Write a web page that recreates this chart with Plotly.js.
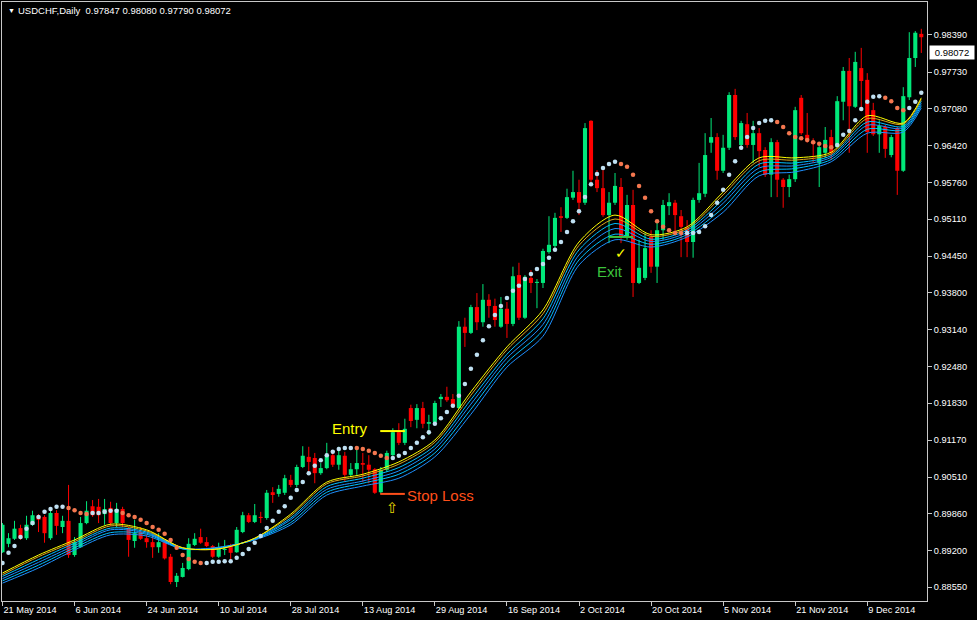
<!DOCTYPE html>
<html><head><meta charset="utf-8">
<script src="https://cdn.plot.ly/plotly-3.0.1.min.js"></script>
<style>html,body{margin:0;padding:0;background:#000;}#chart{width:977px;height:620px;}</style>
</head><body><div id="chart"></div>
<script>
// ---- Daily candles (USDCHF) ----
const openP = [
.8917,.8932,.8941,.8960,.8942,.8966,.8982,.8980,.8942,.8987,
.8962,.8973,.8912,.8926,.8969,.8999,.8998,.8985,.8996,.8969,
.8994,.8960,.8937,.8953,.8942,.8935,.8926,.8935,.8909,.8864,
.8873,.8887,.8930,.8944,.8935,.8928,.8909,.8921,.8926,.8917,
.8953,.8983,.8971,.8980,.8978,.9024,.9021,.9023,.9046,.9037,
.9069,.9087,.9085,.9058,.9067,.9090,.9073,.9089,.9055,.9065,
.9076,.9073,.9065,.9024,.9064,.9090,.9131,.9112,.9174,.9153,
.9174,.9146,.9149,.9190,.9194,.9190,.9174,.9319,.9308,.9354,
.9327,.9367,.9356,.9319,.9351,.9324,.9411,.9335,.9406,.9397,
.9397,.9452,.9463,.9516,.9513,.9549,.9559,.9540,.9686,.9581,
.9566,.9518,.9540,.9568,.9479,.9536,.9397,.9406,.9479,.9426,
.9491,.9534,.9540,.9516,.9495,.9470,.9545,.9556,.9647,.9657,
.9597,.9638,.9732,.9643,.9680,.9643,.9664,.9634,.9590,.9648,
.9581,.9568,.9582,.9727,.9661,.9650,.9611,.9629,.9657,.9639,
.9720,.9775,.9711,.9780,.9759,.9705,.9662,.9675,.9625,.9673,
.9597,.9728,.9798,.9841];
const highP = [
.8969,.8951,.8973,.8966,.8982,.8991,.8985,.8983,.8991,.8992,
.8982,.9037,.8944,.8980,.9008,.9010,.9012,.9012,.9007,.9005,
.8998,.8962,.8975,.8962,.8948,.8948,.8951,.8939,.8914,.8880,
.8898,.8942,.8951,.8959,.8944,.8930,.8934,.8939,.8932,.8962,
.8989,.8987,.9003,.8989,.9028,.9033,.9037,.9055,.9055,.9073,
.9106,.9105,.9094,.9076,.9112,.9099,.9105,.9096,.9076,.9105,
.9094,.9090,.9067,.9069,.9098,.9138,.9147,.9155,.9180,.9181,
.9185,.9162,.9187,.9199,.9212,.9199,.9329,.9335,.9358,.9379,
.9395,.9377,.9369,.9372,.9363,.9426,.9433,.9411,.9420,.9404,
.9458,.9516,.9522,.9532,.9565,.9597,.9581,.9682,.9687,.9598,
.9598,.9559,.9593,.9584,.9554,.9563,.9474,.9486,.9491,.9504,
.9545,.9557,.9545,.9527,.9509,.9549,.9611,.9664,.9691,.9664,
.9661,.9737,.9743,.9686,.9700,.9686,.9673,.9639,.9655,.9652,
.9584,.9590,.9711,.9732,.9700,.9655,.9648,.9675,.9670,.9730,
.9782,.9798,.9809,.9816,.9771,.9718,.9687,.9679,.9661,.9675,
.9746,.9844,.9846,.9850];
const lowP = [
.8916,.8926,.8939,.8939,.8939,.8964,.8953,.8934,.8939,.8948,
.8951,.8907,.8909,.8925,.8967,.8980,.8969,.8966,.8964,.8962,
.8962,.8909,.8925,.8939,.8925,.8907,.8916,.8904,.8860,.8855,
.8872,.8885,.8928,.8932,.8926,.8907,.8907,.8912,.8903,.8916,
.8951,.8969,.8969,.8969,.8975,.9005,.9016,.9019,.9033,.9033,
.9067,.9055,.9040,.9055,.9065,.9069,.9064,.9042,.9051,.9055,
.9042,.9040,.9021,.9021,.9060,.9089,.9108,.9108,.9140,.9138,
.9138,.9126,.9147,.9176,.9185,.9174,.9172,.9283,.9306,.9313,
.9319,.9335,.9319,.9317,.9299,.9320,.9331,.9333,.9379,.9352,
.9388,.9449,.9456,.9488,.9511,.9545,.9518,.9536,.9577,.9559,
.9515,.9468,.9536,.9468,.9474,.9372,.9395,.9402,.9415,.9397,
.9474,.9518,.9486,.9443,.9443,.9442,.9540,.9550,.9629,.9581,
.9593,.9634,.9652,.9638,.9638,.9611,.9604,.9586,.9550,.9550,
.9531,.9550,.9577,.9661,.9647,.9611,.9568,.9620,.9616,.9638,
.9687,.9629,.9709,.9709,.9629,.9659,.9629,.9620,.9621,.9554,
.9595,.9723,.9782,.9807];
const closeP = [
.8966,.8942,.8959,.8942,.8966,.8983,.8975,.8951,.8987,.8964,
.8973,.8912,.8935,.8969,.8991,.8983,.8983,.8994,.8969,.8994,
.8969,.8939,.8951,.8941,.8935,.8926,.8935,.8906,.8864,.8875,
.8889,.8932,.8941,.8934,.8928,.8909,.8923,.8923,.8916,.8957,
.8983,.8971,.8983,.8978,.9023,.9019,.9030,.9049,.9037,.9069,
.9089,.9078,.9058,.9067,.9090,.9073,.9090,.9055,.9065,.9076,
.9073,.9064,.9023,.9064,.9094,.9131,.9112,.9137,.9151,.9174,
.9146,.9149,.9183,.9194,.9188,.9178,.9319,.9308,.9354,.9327,
.9367,.9356,.9331,.9351,.9324,.9409,.9335,.9408,.9397,.9399,
.9454,.9465,.9513,.9513,.9550,.9559,.9540,.9673,.9581,.9566,
.9518,.9540,.9570,.9479,.9536,.9397,.9424,.9459,.9426,.9491,
.9536,.9541,.9518,.9497,.9470,.9545,.9557,.9625,.9657,.9597,
.9638,.9732,.9657,.9682,.9643,.9664,.9632,.9590,.9648,.9581,
.9568,.9582,.9705,.9664,.9652,.9645,.9639,.9652,.9629,.9721,
.9775,.9712,.9791,.9757,.9666,.9662,.9677,.9636,.9657,.9597,
.9730,.9798,.9843,.9835];

// ---- Parabolic SAR ----
const sarValue = [
.8898,.8916,.8928,.8944,.8959,.8969,.8980,.8989,.8994,.8998,
.8998,.8996,.8992,.8987,.8985,.8987,.8987,.8989,.8991,.8991,
.8987,.8983,.8980,.8975,.8969,.8962,.8957,.8950,.8939,.8925,
.8912,.8905,.8900,.8898,.8898,.8900,.8900,.8901,.8901,.8907,
.8914,.8923,.8934,.8946,.8960,.8973,.8989,.8999,.9014,.9028,
.9042,.9058,.9071,.9081,.9090,.9096,.9101,.9103,.9103,.9103,
.9101,.9098,.9094,.9089,.9085,.9085,.9089,.9094,.9103,.9112,
.9122,.9131,.9146,.9156,.9167,.9178,.9196,.9217,.9244,.9269,
.9295,.9320,.9340,.9356,.9370,.9383,.9392,.9404,.9413,.9422,
.9431,.9442,.9456,.9470,.9488,.9507,.9525,.9550,.9573,.9591,
.9602,.9609,.9613,.9609,.9604,.9590,.9570,.9549,.9525,.9507,
.9497,.9491,.9486,.9486,.9486,.9486,.9488,.9498,.9518,.9540,
.9563,.9590,.9614,.9638,.9657,.9673,.9682,.9686,.9687,.9684,
.9675,.9664,.9657,.9655,.9652,.9648,.9645,.9641,.9639,.9643,
.9661,.9668,.9687,.9707,.9720,.9729,.9730,.9727,.9721,.9709,
.9705,.9709,.9720,.9736];
// runs of SAR side: 'u' = dot below price, 'd' = dot above price
const sarRuns = [['u',11],['d',4],['u',5],['d',14],['u',25],['d',6],['u',38],['d',11],['u',15],['d',10],['u',8],['d',4],['u',3]];

// ---- Moving-average ribbon (read at every 6th bar) ----
const maBar    = [0,6,12,18,24,30,36,42,48,54,60,66,72,78,84,90,96,102,108,114,120,126,132,138,144,150,153];
const maYellow = [.8880,.8912,.8939,.8967,.8957,.8925,.8923,.8942,.8985,.9042,.9056,.9078,.9117,.9203,.9283,.9349,.9470,.9518,.9483,.9497,.9559,.9620,.9620,.9630,.9695,.9682,.9727];
const maGold   = [.8877,.8909,.8936,.8964,.8955,.8925,.8923,.8942,.8982,.9039,.9053,.9074,.9113,.9197,.9278,.9342,.9464,.9511,.9480,.9494,.9554,.9615,.9616,.9627,.9690,.9680,.9724];
const maBlue1  = [.8874,.8904,.8933,.8960,.8953,.8924,.8924,.8941,.8978,.9034,.9049,.9068,.9107,.9189,.9270,.9333,.9456,.9503,.9475,.9491,.9546,.9609,.9611,.9624,.9684,.9676,.9721];
const maBlue2  = [.8870,.8899,.8929,.8957,.8951,.8924,.8925,.8940,.8975,.9029,.9044,.9062,.9101,.9181,.9263,.9323,.9447,.9494,.9471,.9487,.9539,.9602,.9606,.9621,.9678,.9673,.9717];
const maBlue3  = [.8866,.8894,.8925,.8952,.8949,.8923,.8925,.8940,.8970,.9024,.9040,.9056,.9094,.9172,.9255,.9313,.9438,.9484,.9466,.9483,.9531,.9595,.9601,.9617,.9671,.9670,.9713];
const maBlue4  = [.8862,.8889,.8921,.8948,.8946,.8923,.8926,.8939,.8966,.9019,.9035,.9049,.9087,.9163,.9247,.9302,.9429,.9474,.9461,.9479,.9523,.9588,.9595,.9613,.9664,.9666,.9709];

// ---- Axis labels ----
const dateTickBars = [0,12,24,36,48,60,72,84,96,108,120,132,144];
const dateTickText = ['21 May 2014','6 Jun 2014','24 Jun 2014','10 Jul 2014','28 Jul 2014','13 Aug 2014','29 Aug 2014','16 Sep 2014','2 Oct 2014','20 Oct 2014','5 Nov 2014','21 Nov 2014','9 Dec 2014'];
const priceTicks = [0.98390,0.97730,0.97080,0.96420,0.95760,0.95110,0.94450,0.93800,0.93140,0.92480,0.91830,0.91170,0.90510,0.89860,0.89200,0.88550];
const lastPrice = 0.98072;
const titleText = 'USDCHF,Daily\u00a0\u00a00.97847 0.98080 0.97790 0.98072';

// ---- Trade marks ----
const entryLevel = 0.9133, stopLevel = 0.9021, exitLevel = 0.9479;
const entryBars = [62.9, 67.0], exitBars = [101.0, 105.0];

const GREEN = '#00E87A', RED = '#FF0000';
const idx = closeP.map((_, i) => i);
const isUp = idx.map(i => closeP[i] >= openP[i]);

const traces = [];
function wickTrace(up) {
  const x = [], y = [];
  idx.forEach(i => { if (isUp[i] === up) { x.push(i, i, null); y.push(lowP[i], highP[i], null); } });
  return {type: 'scatter', mode: 'lines', x, y, line: {color: up ? GREEN : RED, width: 1}, hoverinfo: 'skip'};
}
traces.push(wickTrace(true), wickTrace(false));
traces.push({
  type: 'bar', x: idx,
  base: idx.map(i => Math.min(openP[i], closeP[i])),
  y: idx.map(i => Math.max(Math.abs(closeP[i] - openP[i]), 0.00012)),
  width: 0.68,
  marker: {color: idx.map(i => isUp[i] ? GREEN : RED), line: {width: 0}},
  hoverinfo: 'skip'
});

const ribbon = [
  [maBlue4, '#1E90FF'], [maBlue3, '#00BFFF'], [maBlue2, '#1E90FF'], [maBlue1, '#00BFFF'],
  [maGold, '#DAA520'], [maYellow, '#FFFF00']
];
ribbon.forEach(([vals, col]) => traces.push({
  type: 'scatter', mode: 'lines', x: maBar, y: vals,
  line: {color: col, width: 1, shape: 'spline', smoothing: 0.8}, hoverinfo: 'skip'
}));

const side = [];
sarRuns.forEach(([s, n]) => { for (let k = 0; k < n; k++) side.push(s); });
traces.push({type: 'scatter', mode: 'markers', x: idx, y: idx.map(i => side[i] === 'u' ? sarValue[i] : null),
  marker: {color: '#BFE0F2', size: 4.5}, hoverinfo: 'skip'});
traces.push({type: 'scatter', mode: 'markers', x: idx, y: idx.map(i => side[i] === 'd' ? sarValue[i] : null),
  marker: {color: '#F4774F', size: 4.5}, hoverinfo: 'skip'});

const axisCol = '#c8c8c8';
const layout = {
  width: 977, height: 620,
  margin: {l: 2, r: 50, t: 2, b: 19},
  paper_bgcolor: '#000', plot_bgcolor: '#000',
  showlegend: false, barmode: 'overlay',
  font: {family: 'Liberation Sans, Arial, sans-serif', size: 9, color: '#ffffff'},
  xaxis: {range: [-0.083, 153.95], showgrid: false, zeroline: false, showline: true, mirror: true,
    linecolor: axisCol, linewidth: 1, ticks: 'outside', ticklen: 4, tickcolor: axisCol,
    tickvals: dateTickBars, ticktext: dateTickText, ticklabelposition: 'outside right',
    tickfont: {size: 9.2, color: '#ffffff'}},
  yaxis: {side: 'right', range: [0.88301, 0.98978], showgrid: false, zeroline: false, showline: true, mirror: true,
    linecolor: axisCol, linewidth: 1, ticks: 'outside', ticklen: 4, tickcolor: axisCol,
    tickvals: priceTicks, ticktext: priceTicks.map(v => v.toFixed(5)),
    tickfont: {size: 9.2, color: '#ffffff'}},
  shapes: [
    {type: 'line', xref: 'x', yref: 'y', x0: entryBars[0], x1: entryBars[1], y0: entryLevel, y1: entryLevel, line: {color: '#FFFF00', width: 2}},
    {type: 'line', xref: 'x', yref: 'y', x0: entryBars[0], x1: entryBars[1], y0: stopLevel, y1: stopLevel, line: {color: '#FF4F1A', width: 2}},
    {type: 'line', xref: 'x', yref: 'y', x0: exitBars[0], x1: exitBars[1], y0: exitLevel, y1: exitLevel, line: {color: '#3CC33C', width: 2}}
  ],
  annotations: [
    {xref: 'paper', yref: 'paper', x: 14 / 925, y: 1, xanchor: 'left', yanchor: 'top', yshift: -1, showarrow: false,
      text: titleText, font: {size: 9.5, color: '#ffffff'}},
    {xref: 'paper', yref: 'paper', x: 4 / 925, y: 1, xanchor: 'left', yanchor: 'top', yshift: -3, showarrow: false,
      text: '\u25BC', font: {size: 7, color: '#ffffff'}},
    {xref: 'paper', yref: 'y', x: 1, y: lastPrice, xanchor: 'left', xshift: 2, showarrow: false,
      text: lastPrice.toFixed(5), bgcolor: '#ffffff', font: {size: 9.5, color: '#000000'}, width: 42, height: 11, borderpad: 1},
    {xref: 'x', yref: 'y', x: 57.9, y: 0.9138, showarrow: false, text: 'Entry', font: {size: 15, color: '#FFFF00'}},
    {xref: 'x', yref: 'y', x: 73.0, y: 0.9019, showarrow: false, text: 'Stop Loss', font: {size: 15, color: '#FF4F1A'}},
    {xref: 'x', yref: 'y', x: 101.2, y: 0.9418, showarrow: false, text: 'Exit', font: {size: 15, color: '#3CC33C'}},
    {xref: 'x', yref: 'y', x: 103.0, y: 0.9451, showarrow: false, text: '\u2713', font: {size: 14, color: '#FFFF00'}},
    {xref: 'x', yref: 'y', x: 65.0, y: 0.8996, showarrow: false, text: '\u21E7', font: {family: 'DejaVu Sans', size: 15, color: '#E8D800'}}
  ]
};
Plotly.newPlot('chart', traces, layout, {displayModeBar: false, staticPlot: true});
</script></body></html>
